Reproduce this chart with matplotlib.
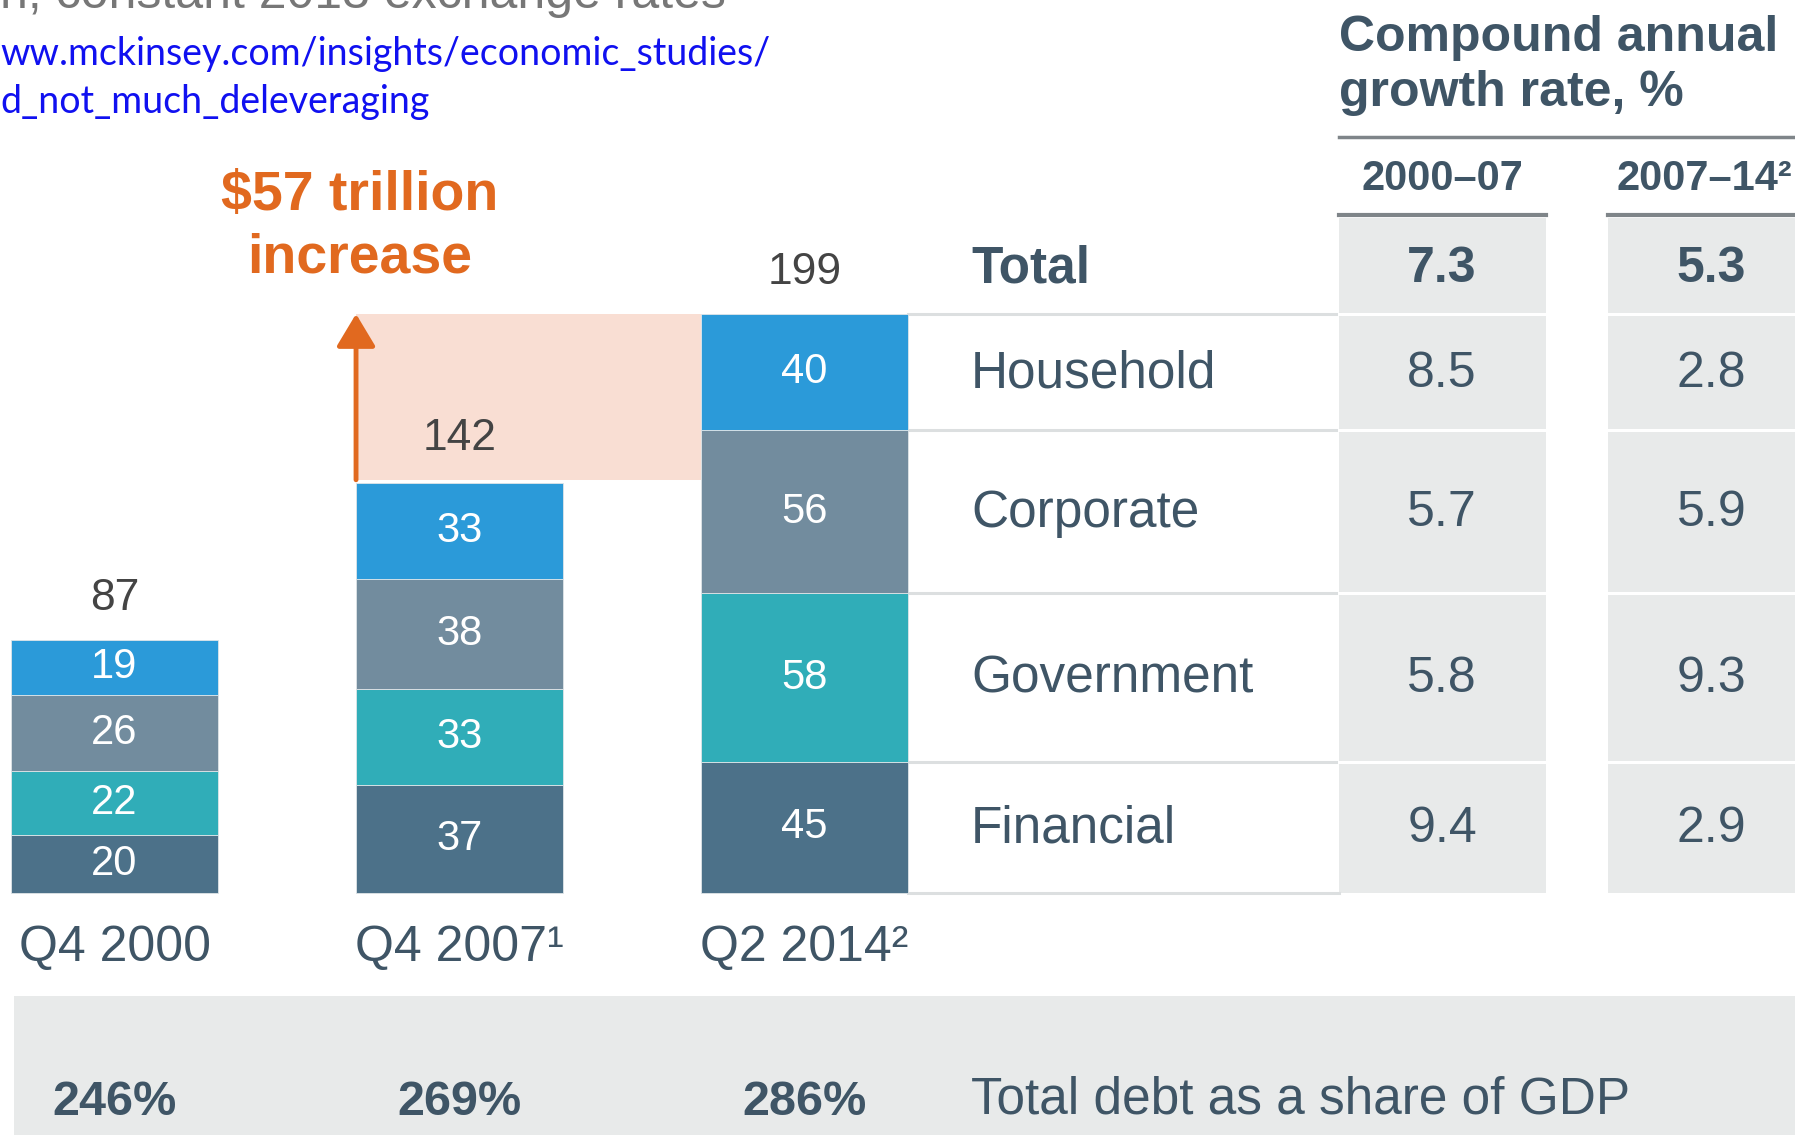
import numpy as np
import matplotlib
matplotlib.use("Agg")
import matplotlib.pyplot as plt
from matplotlib.patches import Rectangle

# data
periods = ["Q4 2000", "Q4 2007¹", "Q2 2014²"]
sectors = ["Financial", "Government", "Corporate", "Household"]  # bottom -> top
financial = [20, 37, 45]
government = [22, 33, 58]
corporate = [26, 38, 56]
household = [19, 33, 40]
totals = [87, 142, 199]
gdp_share = ["246%", "269%", "286%"]
cagr_00_07 = [9.4, 5.8, 5.7, 8.5]
cagr_07_14 = [2.9, 9.3, 5.9, 2.8]
cagr_total = [7.3, 5.3]
col_heads = ["2000–07", "2007–14²"]

colors = ["#4c7189", "#30adb8", "#728c9e", "#2b9ad9"]
dark = "#3f5566"
orange = "#e1691f"
light_gray = "#e8eaea"

plt.rcParams["font.family"] = ["Liberation Sans", "DejaVu Sans"]

fig = plt.figure(figsize=(17.95, 11.35), dpi=100)
ax = fig.add_axes([0, 0, 1, 1])
ax.set_xlim(-0.332, 4.871)
ax.set_ylim(-83.2, 306.9)
ax.axis("off")

x = np.arange(len(periods))
w = 0.6
stack = [financial, government, corporate, household]
bottom = np.zeros(len(periods))
for vals, c in zip(stack, colors):
    ax.bar(x, vals, w, bottom=bottom, color=c, edgecolor="#dfe5e8", linewidth=0.6, zorder=3)
    for xi, b, v in zip(x, bottom, vals):
        ax.text(xi, b + v / 2, str(v), ha="center", va="center", color="white", fontsize=30, zorder=4)
    bottom += vals

for xi, t in zip(x, totals):
    ax.text(xi, t + 14.2, str(t), ha="center", va="center", color="#444444", fontsize=32)

# increase band and arrow
ax.add_patch(Rectangle((x[1] - w / 2, totals[1]), 1.0, totals[2] - totals[1],
                       facecolor="#f9ded3", edgecolor="none", zorder=1))
ax.annotate("", xy=(x[1] - w / 2, totals[2]), xytext=(x[1] - w / 2, totals[1]),
            arrowprops=dict(arrowstyle="-|>,head_width=0.6,head_length=1.0", color=orange,
                            lw=3.5, mutation_scale=20, shrinkA=0, shrinkB=0), zorder=5)
ax.text(0.71, 239.6, "$57 trillion", ha="center", va="center", color=orange, fontsize=40, fontweight="bold")
ax.text(0.71, 218.2, "increase", ha="center", va="center", color=orange, fontsize=40, fontweight="bold")

# category labels
for xi, p in zip(x, periods):
    ax.text(xi, -19.0, p, ha="center", va="center", color=dark, fontsize=36)

# bottom band
ax.add_patch(Rectangle((-0.29, -83.2), 6, 83.2 - 35.4, facecolor=light_gray, edgecolor="none", zorder=0))
for xi, s in zip(x, gdp_share):
    ax.text(xi, -72.0, s, ha="center", va="center", color=dark, fontsize=35, fontweight="bold")
ax.text(2.483, -71.2, "Total debt as a share of GDP", ha="left", va="center", color=dark, fontsize=37)

# table
label_x = 2.483
col_x = [3.848, 4.629]
bounds = np.concatenate([[0], np.cumsum([financial[2], government[2], corporate[2], household[2]])])
total_top = 232
for cx in col_x:
    ax.bar(cx, total_top, w, color=light_gray, zorder=1)
for b in bounds:
    ax.plot([x[2] + w / 2, col_x[0] - w / 2], [b, b], color="#dcdfe0", lw=2.2, zorder=2)
    for cx in col_x:
        if b > 0:
            ax.plot([cx - w / 2, cx + w / 2], [b, b], color="white", lw=2.2, zorder=2)
for i, s in enumerate(sectors):
    mid = (bounds[i] + bounds[i + 1]) / 2 - 0.5
    ax.text(label_x, mid, s, ha="left", va="center", color=dark, fontsize=37)
    ax.text(col_x[0], mid, f"{cagr_00_07[i]:.1f}", ha="center", va="center", color=dark, fontsize=36)
    ax.text(col_x[1], mid, f"{cagr_07_14[i]:.1f}", ha="center", va="center", color=dark, fontsize=36)
tmid = (bounds[-1] + total_top) / 2 - 1.2
ax.text(label_x, tmid, "Total", ha="left", va="center", color=dark, fontsize=37, fontweight="bold")
for cx, v in zip(col_x, cagr_total):
    ax.text(cx, tmid, f"{v:.1f}", ha="center", va="center", color=dark, fontsize=36, fontweight="bold")

# table header
head_shift = [0.0, -0.02]
for cx, h, dx in zip(col_x, col_heads, head_shift):
    ax.plot([cx - w / 2, cx + w / 2], [total_top + 1, total_top + 1], color="#7f8589", lw=3, zorder=2)
    ax.text(cx + dx, 245.4, h, ha="center", va="center", color=dark, fontsize=30, fontweight="bold")
ax.plot([col_x[0] - w / 2, 6], [259.8, 259.8], color="#7f8589", lw=2.5)
ax.text(col_x[0] - w / 2, 293.8, "Compound annual", ha="left", va="center", color=dark, fontsize=36, fontweight="bold")
ax.text(col_x[0] - w / 2, 274.8, "growth rate, %", ha="left", va="center", color=dark, fontsize=36, fontweight="bold")

# clipped subtitle and source link
fig.text(0, 1 - 8 / 1135, "n, constant 2013 exchange rates", ha="left", va="baseline", color="#777777", fontsize=36)
fig.text(0.0, 1 - 54 / 1135, "ww.mckinsey.com/insights/economic_studies/", ha="left", va="center",
         color="#1010f0", fontsize=27, family=["Lato", "DejaVu Sans"])
fig.text(0.0, 1 - 102 / 1135, "d_not_much_deleveraging", ha="left", va="center",
         color="#1010f0", fontsize=27, family=["Lato", "DejaVu Sans"])

fig.savefig("out.png", dpi=100)
